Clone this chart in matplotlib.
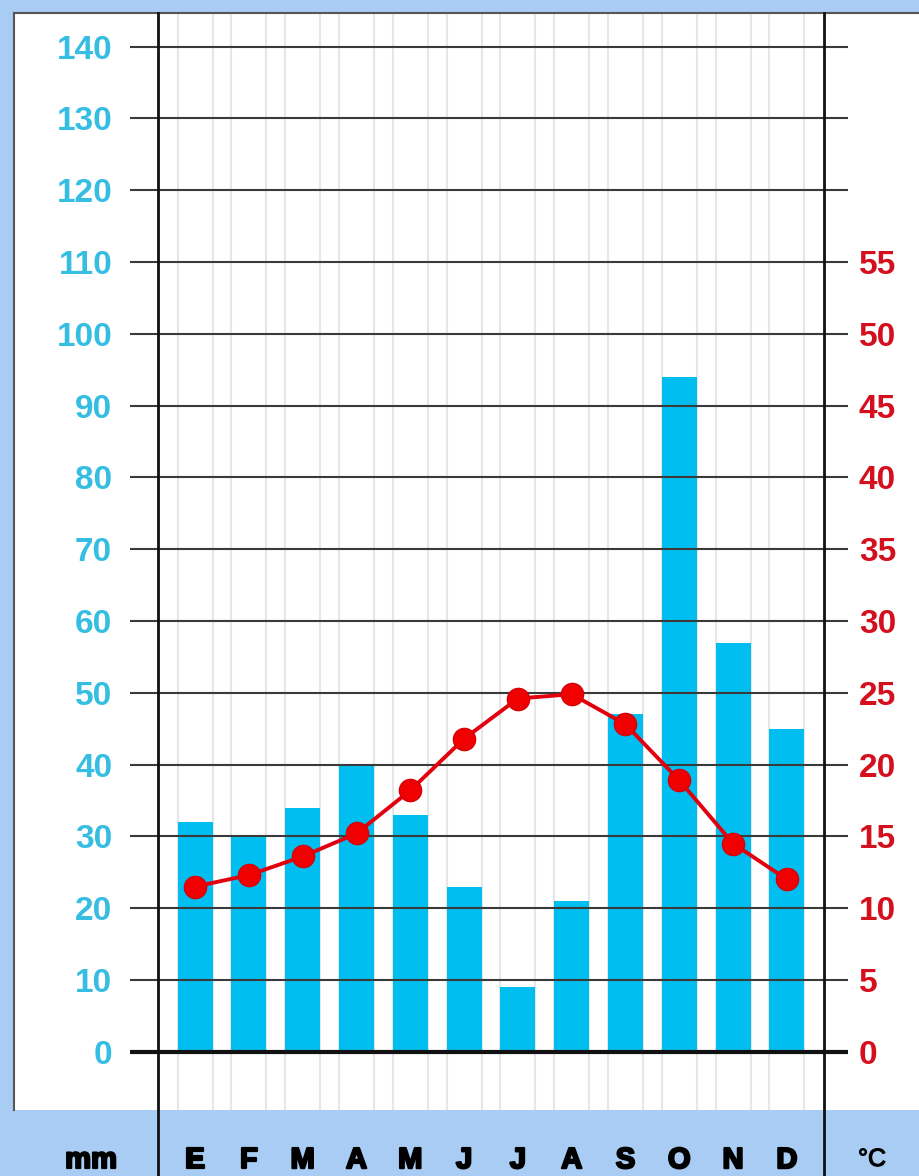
import numpy as np
import matplotlib
matplotlib.use("Agg")
import matplotlib.pyplot as plt
import matplotlib.patheffects as pe
from matplotlib.patches import Rectangle
from matplotlib.lines import Line2D

# climate data
MONTHS = ["E", "F", "M", "A", "M", "J", "J", "A", "S", "O", "N", "D"]
PRECIP_MM = [32, 30, 34, 40, 33, 23, 9, 21, 47, 94, 57, 45]
TEMP_C = [11.5, 12.3, 13.6, 15.2, 18.2, 21.8, 24.6, 24.9, 22.8, 18.9, 14.5, 12.0]
MM_TICKS = list(range(0, 150, 10))
C_TICKS = list(range(0, 60, 5))

BG = "#a8ccf4"
BAR_BLUE = "#00bff0"
TICK_BLUE = "#36bde2"
TICK_RED = "#d4101e"
RED = "#f00000"
GRID = "#3a3a3a"

W, H = 920, 1176
plt.rcParams['font.family'] = ['Liberation Sans', 'DejaVu Sans']
fig = plt.figure(figsize=(W / 100, H / 100), dpi=100, facecolor=BG)

# white panel with a dark border on top and left
fig.patches.append(Rectangle((14 / W, 1 - 1110 / H), 1, (1110 - 13) / H,
                             transform=fig.transFigure, facecolor="white",
                             edgecolor="none", zorder=-5))
fig.lines.append(Line2D([14 / W, 14 / W], [1 - 1110 / H, 1 - 13 / H],
                        transform=fig.transFigure, color="#555555", lw=1.5))
fig.lines.append(Line2D([14 / W, 1], [1 - 13 / H, 1 - 13 / H],
                        transform=fig.transFigure, color="#555555", lw=1.5))

# axes area in pixels
left, right, top, bottom = 158, 824, 13, 1110
ax = fig.add_axes([left / W, 1 - bottom / H, (right - left) / W, (bottom - top) / H])
ax.set_facecolor("none")
for s in ax.spines.values():
    s.set_visible(False)

px_per_mm = (1051.7 - 46.7) / 140
ylo = -(bottom - 1051.7) / px_per_mm
yhi = (1051.7 - top) / px_per_mm
ax.set_ylim(ylo, yhi)

x = np.arange(len(MONTHS))
bw = 0.65
ax.set_xlim(-0.69, len(MONTHS) - 1 + 0.69)

# light vertical guides at the bar edges
for xi in x:
    for e in (xi - bw / 2, xi + bw / 2):
        ax.axvline(e, color="#e6e6e6", lw=1.5, zorder=0.5)

ax.bar(x, PRECIP_MM, width=bw, color=BAR_BLUE, zorder=1)

# horizontal grid, running a little past both axes
tr = ax.get_yaxis_transform()
ax.hlines(MM_TICKS[1:], -28 / (right - left), 1 + 24 / (right - left),
          transform=tr, color=GRID, lw=1.5, zorder=2, clip_on=False)
ax.hlines([0], -28 / (right - left), 1 + 24 / (right - left),
          transform=tr, color="#111111", lw=3, zorder=2.5, clip_on=False)

# vertical axis lines across the whole height
for xp in (left, right):
    fig.lines.append(Line2D([xp / W, xp / W], [0, 1 - 13 / H],
                            transform=fig.transFigure, color="#111111", lw=2))

ax.set_yticks(MM_TICKS)
ax.tick_params(axis="y", length=0, pad=33, labelsize=24, labelcolor=TICK_BLUE)
for t in ax.get_yticklabels():
    t.set_fontweight("bold")

heavy = [pe.withStroke(linewidth=1.6, foreground="black")]
ax.set_xticks(x)
ax.set_xticklabels(MONTHS, fontsize=21, fontweight="bold", color="black")
for t in ax.get_xticklabels():
    t.set_path_effects(heavy)
ax.tick_params(axis="x", length=0, pad=26)

# temperature on the right axis (1 degC = 2 mm)
ax2 = ax.twinx()
ax2.set_ylim(ylo / 2, yhi / 2)
for s in ax2.spines.values():
    s.set_visible(False)
ax2.plot(x, TEMP_C, color="#e2000e", lw=2.8, marker="o", markersize=16,
         markerfacecolor=RED, markeredgecolor="#d80008", markeredgewidth=1, zorder=3)
ax2.set_yticks(C_TICKS)
ax2.tick_params(axis="y", length=0, pad=25, labelsize=24, labelcolor=TICK_RED)
for t in ax2.get_yticklabels():
    t.set_fontweight("bold")

fig.text(91 / W, 1 - 1160 / H, "mm", fontsize=21, fontweight="bold",
         ha="center", va="center", path_effects=heavy)
fig.text(872 / W, 1 - 1159 / H, "°C", fontsize=18, ha="center", va="center",
         path_effects=[pe.withStroke(linewidth=0.8, foreground="black")])

fig.savefig("out.png", dpi=100, facecolor=BG)
